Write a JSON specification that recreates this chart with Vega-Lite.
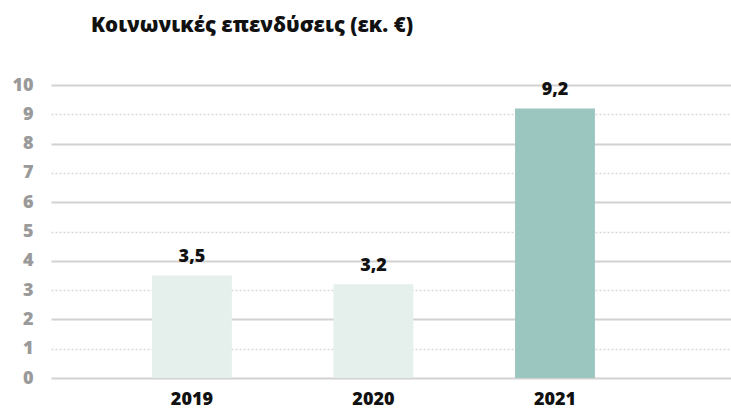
{
  "$schema": "https://vega.github.io/schema/vega-lite/v6.json",
  "width": 680,
  "height": 293,
  "autosize": "none",
  "padding": {"left": 51, "top": 85, "right": 0, "bottom": 31},
  "background": "white",
  "config": {
    "view": {"stroke": null},
    "locale": {"number": {"decimal": ",", "thousands": ".", "grouping": [3], "currency": ["", " €"]}},
    "font": "Open Sans"
  },
  "title": {
    "text": "Κοινωνικές επενδύσεις (εκ. €)",
    "anchor": "start",
    "frame": "group",
    "dx": 40,
    "offset": 40,
    "font": "Open Sans",
    "fontSize": 20.5,
    "fontWeight": 800,
    "color": "#111111"
  },
  "data": {
    "values": [
      {"year": "2019", "value": 3.5, "highlight": "no"},
      {"year": "2020", "value": 3.2, "highlight": "no"},
      {"year": "2021", "value": 9.2, "highlight": "yes"}
    ]
  },
  "encoding": {
    "x": {
      "field": "year",
      "type": "nominal",
      "sort": null,
      "scale": {"paddingInner": 0.56, "paddingOuter": 0.653, "align": 0.426},
      "axis": {
        "title": null,
        "labelAngle": 0,
        "domain": false,
        "ticks": false,
        "labelPadding": 12,
        "labelFont": "Open Sans",
        "labelFontSize": 18,
        "labelFontWeight": 800,
        "labelColor": "#111111"
      }
    },
    "y": {
      "field": "value",
      "type": "quantitative",
      "scale": {"domain": [0, 10], "nice": false},
      "axis": {
        "title": null,
        "values": [0, 1, 2, 3, 4, 5, 6, 7, 8, 9, 10],
        "domain": false,
        "ticks": false,
        "labelPadding": 18,
        "labelFont": "Open Sans",
        "labelFontSize": 18,
        "labelFontWeight": 800,
        "labelColor": "#9a9a9a",
        "grid": true,
        "gridColor": {"condition": {"test": "datum.value % 2 === 0", "value": "#d2d2d2"}, "value": "#d8d8d8"},
        "gridWidth": {"condition": {"test": "datum.value % 2 === 0", "value": 2}, "value": 1.5},
        "gridDash": {"condition": {"test": "datum.value % 2 === 0", "value": []}, "value": [2, 2]}
      }
    }
  },
  "layer": [
    {
      "mark": {"type": "bar"},
      "encoding": {
        "color": {
          "field": "highlight",
          "type": "nominal",
          "scale": {"domain": ["no", "yes"], "range": ["#e5efec", "#9bc6c0"]},
          "legend": null
        }
      }
    },
    {
      "mark": {"type": "text", "baseline": "bottom", "dy": -9, "font": "Open Sans", "fontSize": 18, "fontWeight": 800, "color": "#111111"},
      "encoding": {
        "text": {"field": "value", "type": "quantitative", "format": ".1f"}
      }
    }
  ]
}
